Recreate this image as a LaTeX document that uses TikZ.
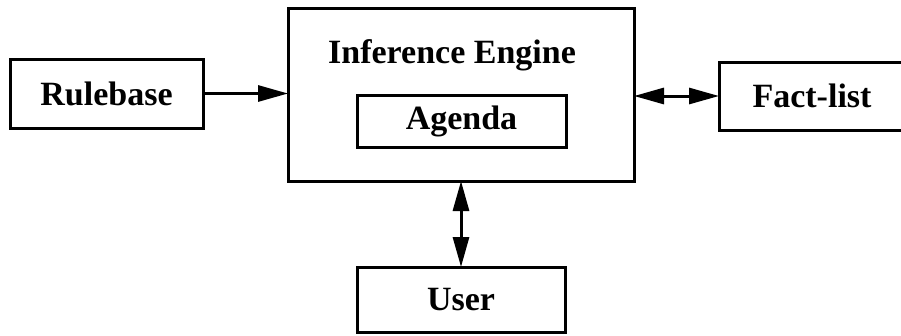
\documentclass[tikz,border=0pt]{standalone}
\usepackage{fontspec}
\setmainfont{Liberation Serif}
\usetikzlibrary{arrows.meta}
\begin{document}
\begin{tikzpicture}[x=1pt,y=-1pt,
  box/.style={draw, line width=3pt, inner sep=0pt, outer sep=0pt,
    font=\fontsize{34}{38}\selectfont\bfseries},
  link/.style={line width=3pt, -{Triangle[length=30pt,width=16pt]}},
  dlink/.style={line width=3pt, {Triangle[length=30pt,width=16pt]}-{Triangle[length=30pt,width=16pt]}},
  title/.style={inner sep=0pt, anchor=base, font=\fontsize{34}{38}\selectfont\bfseries}]
  \useasboundingbox (0,0) rectangle (901,335);
  \clip (0,0) rectangle (901,335);
  % components
  \node[box, minimum width=193pt, minimum height=69pt] (rule) at (106.5,93.5) {Rulebase};
  \node[box, minimum width=346pt, minimum height=173pt] (engine) at (461,94.5) {};
  \node[title] (enginetitle) at (452,63) {Inference Engine};
  \node[box, minimum width=209pt, minimum height=52pt] (agenda) at (461.5,121) {Agenda};
  \node[box, minimum width=186pt, minimum height=68pt] (facts) at (812,96) {Fact-list};
  \node[box, minimum width=208pt, minimum height=65pt] (user) at (461,299.5) {User};
  % data flow
  \draw[link] (rule.east) -- (rule.east -| engine.west);
  \draw[dlink] (facts.west -| engine.east) -- (facts.west);
  \draw[dlink] (engine.south) -- (user.north);
\end{tikzpicture}
\end{document}
